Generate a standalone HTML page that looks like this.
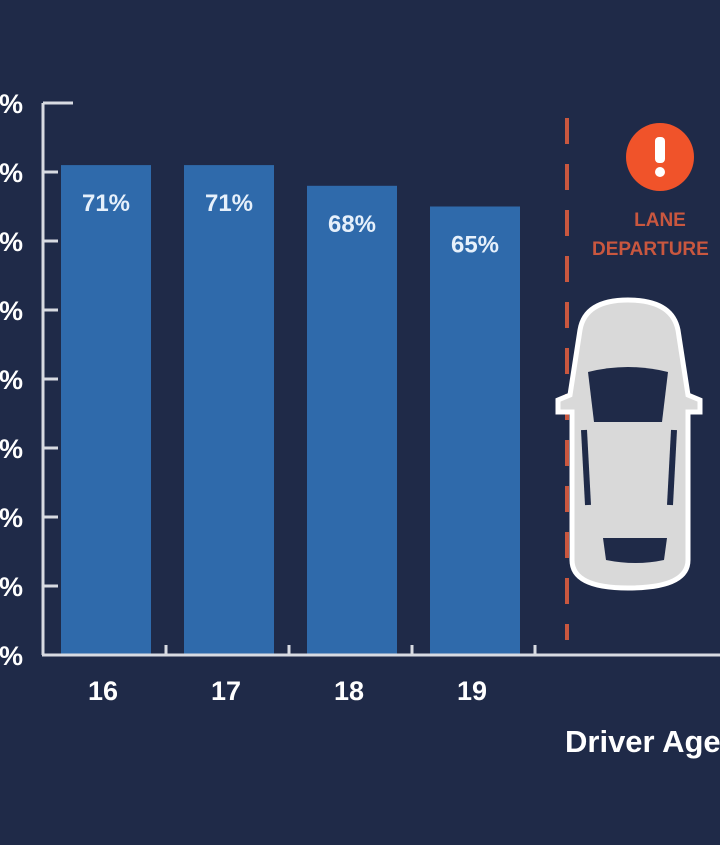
<!DOCTYPE html>
<html><head><meta charset="utf-8"><style>
html,body{margin:0;padding:0;background:#1f2a48;}
svg{display:block}
text{font-family:"Liberation Sans",sans-serif;font-weight:bold}
</style></head><body>
<svg width="720" height="845" viewBox="0 0 720 845">
<rect width="720" height="845" fill="#1f2a48"/>
<g id="yaxis"></g>
<g id="bars"></g>
<g id="xaxis"></g>
<line x1="567" y1="118" x2="567" y2="640" stroke="#c9573f" stroke-width="4" stroke-dasharray="26,20"/>
<g>
<circle cx="660" cy="157" r="34" fill="#f0532a"/>
<rect x="655" y="137" width="10" height="26" rx="4" fill="#fff"/>
<circle cx="660" cy="172" r="5" fill="#fff"/>
</g>
<text x="660" y="226" fill="#c9573f" font-size="19" text-anchor="middle" font-weight="normal">LANE</text>
<text x="592" y="255" fill="#c9573f" font-size="19" font-weight="normal">DEPARTURE</text>
<g>
<path d="M580 330 Q585 300 628 300 Q672 300 678 330 L688 395 L700 400 L700 412 L688 412 L688 560 Q688 588 628 588 Q572 588 572 560 L572 412 L558 412 L558 400 L570 395 Z" fill="#d9d9d9" stroke="#ffffff" stroke-width="5"/>
<path d="M588 372 Q628 362 668 372 L662 422 L594 422 Z" fill="#1f2a48"/>
<path d="M584 430 L588 505" stroke="#1f2a48" stroke-width="6"/>
<path d="M674 430 L670 505" stroke="#1f2a48" stroke-width="6"/>
<path d="M603 538 L667 538 L664 560 Q636 566 606 560 Z" fill="#1f2a48"/>
</g>
<text x="565" y="752" fill="#ffffff" font-size="31">Driver Age</text>
</svg>
<script>
const categories=["16","17","18","19"];
const values=[71,71,68,65];
const yTicks=[0,10,20,30,40,50,60,70,80];
const NS="http://www.w3.org/2000/svg";
const y0=655,pxPer=6.9,x0=61,pitch=123,bw=90;
function ys(v){return y0-v*pxPer;}
function xs(i){return x0+i*pitch;}
function mk(tag,attrs,parent,txt){const e=document.createElementNS(NS,tag);for(const k in attrs)e.setAttribute(k,attrs[k]);if(txt!==undefined)e.textContent=txt;parent.appendChild(e);return e;}
const ya=document.getElementById('yaxis'),ba=document.getElementById('bars'),xa=document.getElementById('xaxis');
let l=mk('line',{x1:43,y1:ys(80),x2:43,y2:y0,stroke:'#d8dbe2','stroke-width':3},ya);


yTicks.forEach(t=>{
 const tk=mk('line',{x1:43,y1:ys(t),x2:t==80?73:58,y2:ys(t),stroke:'#d8dbe2','stroke-width':3},ya);
 
 
 const tx=mk('text',{x:23,y:ys(t)+10,fill:'#fff','font-size':27,'text-anchor':'end'},ya,t+'%');
 
 
});
values.forEach((v,i)=>{
 const r=mk('rect',{x:xs(i),y:ys(v),width:bw,height:y0-ys(v),fill:'#2f6aab'},ba);
 
 
 const t=mk('text',{x:xs(i)+bw/2,y:ys(v)+46,fill:'#e6f0fb','font-size':24,'text-anchor':'middle'},ba,v+'%');
 
 
 const c=mk('text',{x:xs(i)+bw/2-3,y:700,fill:'#fff','font-size':27,'text-anchor':'middle'},xa,categories[i]);
 
 
 const tk=mk('line',{x1:xs(i)+bw+15,y1:y0,x2:xs(i)+bw+15,y2:y0-10,stroke:'#d8dbe2','stroke-width':3},xa);
 
 
});
const xl=mk('line',{x1:42,y1:y0,x2:720,y2:y0,stroke:'#d8dbe2','stroke-width':3},xa);


</script>
</body></html>
